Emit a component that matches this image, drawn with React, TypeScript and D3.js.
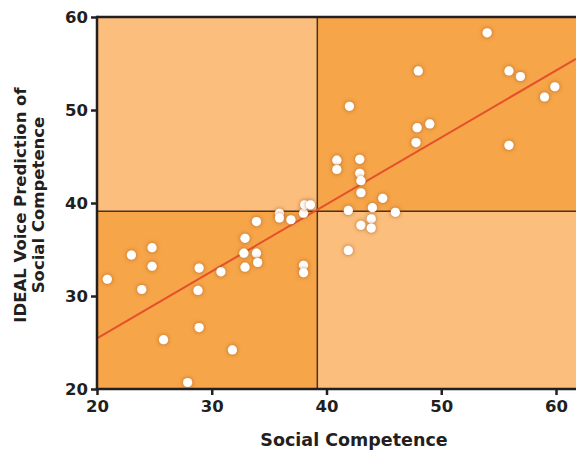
import React, { useEffect, useRef } from 'react';
import * as d3 from 'd3';

// valeurs
const socialCompetence = [
  20.9, 23.0, 24.8, 24.8, 23.9, 25.8, 27.9, 28.9, 28.8, 28.9, 30.8, 31.8,
  32.9, 32.8, 32.9, 33.9, 34.0, 33.9, 35.9, 35.9, 36.9, 38.0, 38.1, 38.6,
  38.0, 38.0, 40.9, 40.9, 42.9, 42.9, 43.0, 43.0, 44.9, 41.9, 44.0, 43.9,
  43.0, 43.9, 46.0, 41.9, 47.8, 48.0, 54.0, 55.9, 56.9, 59.9, 59.0, 49.0,
  47.9, 55.9, 42.0,
];
const voicePrediction = [
  31.8, 34.4, 35.2, 33.2, 30.7, 25.3, 20.7, 33.0, 30.6, 26.6, 32.6, 24.2,
  36.2, 34.6, 33.1, 34.6, 33.6, 38.0, 38.9, 38.4, 38.2, 38.9, 39.8, 39.8,
  33.3, 32.5, 44.6, 43.6, 44.7, 43.2, 42.4, 41.1, 40.5, 39.2, 39.5, 38.3,
  37.6, 37.3, 39.0, 34.9, 46.5, 54.2, 58.3, 54.2, 53.6, 52.5, 51.4, 48.5,
  48.1, 46.2, 50.4,
];
const xTicks = [20, 30, 40, 50, 60];
const yTicks = [20, 30, 40, 50, 60];
const xCut = 39.2;
const yCut = 39.1;
const fitIntercept = 25.45; // valeur en x = 20
const fitSlope = 0.72;

const W = 576;
const H = 451;
const FONT = "'DejaVu Sans', sans-serif";

export default function App() {
  const xAxisRef = useRef<SVGGElement>(null);
  const yAxisRef = useRef<SVGGElement>(null);

  const x = d3.scaleLinear().domain([20, 60]).range([97, 556]);
  const y = d3.scaleLinear().domain([20, 60]).range([389, 17]);
  const left = x(20);
  const right = W;
  const top = y(60);
  const bottom = y(20);
  const xMax = x.invert(right);

  useEffect(() => {
    const xa = d3.select(xAxisRef.current!);
    xa.selectAll('*').remove();
    xa.call(d3.axisBottom(x).tickValues(xTicks).tickSize(6).tickPadding(5).tickSizeOuter(0));
    const ya = d3.select(yAxisRef.current!);
    ya.selectAll('*').remove();
    ya.call(d3.axisLeft(y).tickValues(yTicks).tickSize(6).tickPadding(3).tickSizeOuter(0));
    [xa, ya].forEach(g => {
      g.select('.domain').remove();
      g.selectAll('line').attr('stroke', '#231f20').attr('stroke-width', 2.5);
      g.selectAll('text')
        .attr('fill', '#231f20')
        .style('font-family', FONT)
        .style('font-weight', 'bold')
        .style('font-size', '16.5px');
    });
  }, []);

  const light = '#fbbe7c';
  const dark = '#f6a548';

  const fitLine = d3.line<number>()
    .x(d => x(d))
    .y(d => y(fitIntercept + fitSlope * (d - 20)));

  return (
    <svg width={W} height={H} style={{ position: 'absolute', left: 0, top: 0 }}>
      <defs>
        <filter id="halo" x="-100%" y="-100%" width="300%" height="300%">
          <feDropShadow dx="0" dy="0" stdDeviation="2" floodColor="#a8581a" floodOpacity="0.85" />
        </filter>
      </defs>
      <rect x={0} y={0} width={W} height={H} fill="#fff" />

      {/* quadrants */}
      <rect x={left} y={top} width={x(xCut) - left} height={y(yCut) - top} fill={light} />
      <rect x={x(xCut)} y={top} width={right - x(xCut)} height={y(yCut) - top} fill={dark} />
      <rect x={left} y={y(yCut)} width={x(xCut) - left} height={bottom - y(yCut)} fill={dark} />
      <rect x={x(xCut)} y={y(yCut)} width={right - x(xCut)} height={bottom - y(yCut)} fill={light} />

      <line x1={x(xCut)} x2={x(xCut)} y1={top} y2={bottom} stroke="#4a3322" strokeWidth={1.5} />
      <line x1={left} x2={right} y1={y(yCut)} y2={y(yCut)} stroke="#4a3322" strokeWidth={1.5} />

      <path d={fitLine([20, xMax]) || ''} fill="none" stroke="#e5502c" strokeWidth={2} />

      {socialCompetence.map((v, i) => (
        <circle key={i} cx={x(v)} cy={y(voicePrediction[i])} r={4.6} fill="#fff" filter="url(#halo)" />
      ))}

      {/* cadre */}
      <line x1={left} x2={right} y1={top} y2={top} stroke="#231f20" strokeWidth={2.5} />
      <line x1={left} x2={left} y1={top - 1.25} y2={bottom + 1.25} stroke="#231f20" strokeWidth={2.5} />
      <line x1={left - 1.25} x2={right} y1={bottom} y2={bottom} stroke="#231f20" strokeWidth={2.5} />

      <g ref={xAxisRef} transform={`translate(0,${bottom})`} />
      <g ref={yAxisRef} transform={`translate(${left},0)`} />

      <text x={354} y={446} textAnchor="middle" fill="#231f20"
        style={{ fontFamily: FONT, fontWeight: 'bold', fontSize: '17.5px' }}>
        Social Competence
      </text>
      <g transform="translate(0,205) rotate(-90)" fill="#231f20"
        style={{ fontFamily: FONT, fontWeight: 'bold', fontSize: '16.5px' }}>
        <text x={0} y={26} textAnchor="middle">IDEAL Voice Prediction of</text>
        <text x={0} y={44} textAnchor="middle">Social Competence</text>
      </g>
    </svg>
  );
}
